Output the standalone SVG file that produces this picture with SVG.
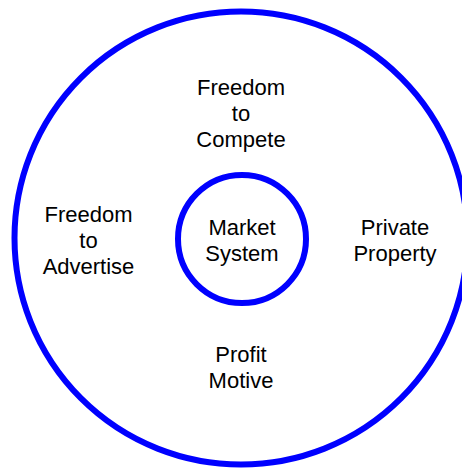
<svg xmlns="http://www.w3.org/2000/svg" width="462" height="468" viewBox="0 0 462 468">
  <style>
    .ring { fill: none; stroke: #0000ff; stroke-width: 6; }
    .label { font-family: "Liberation Sans", Arial, sans-serif; font-size: 22px; fill: #000; text-anchor: middle; }
  </style>
  <rect width="462" height="468" fill="#fff"/>
  <g id="outer-ring">
    <circle class="ring" cx="241" cy="238" r="226.5"/>
  </g>
  <g id="market-system">
    <circle class="ring" cx="242" cy="239" r="64"/>
    <text class="label" x="242" y="235">Market</text>
    <text class="label" x="242" y="261">System</text>
  </g>
  <g id="freedom-to-compete">
    <text class="label" x="241" y="95">Freedom</text>
    <text class="label" x="241" y="121">to</text>
    <text class="label" x="241" y="147">Compete</text>
  </g>
  <g id="freedom-to-advertise">
    <text class="label" x="88.5" y="222">Freedom</text>
    <text class="label" x="88.5" y="248">to</text>
    <text class="label" x="88.5" y="274">Advertise</text>
  </g>
  <g id="private-property">
    <text class="label" x="395" y="235">Private</text>
    <text class="label" x="395" y="261">Property</text>
  </g>
  <g id="profit-motive">
    <text class="label" x="241" y="362">Profit</text>
    <text class="label" x="241" y="388">Motive</text>
  </g>
  <g id="connectors"/>
</svg>
